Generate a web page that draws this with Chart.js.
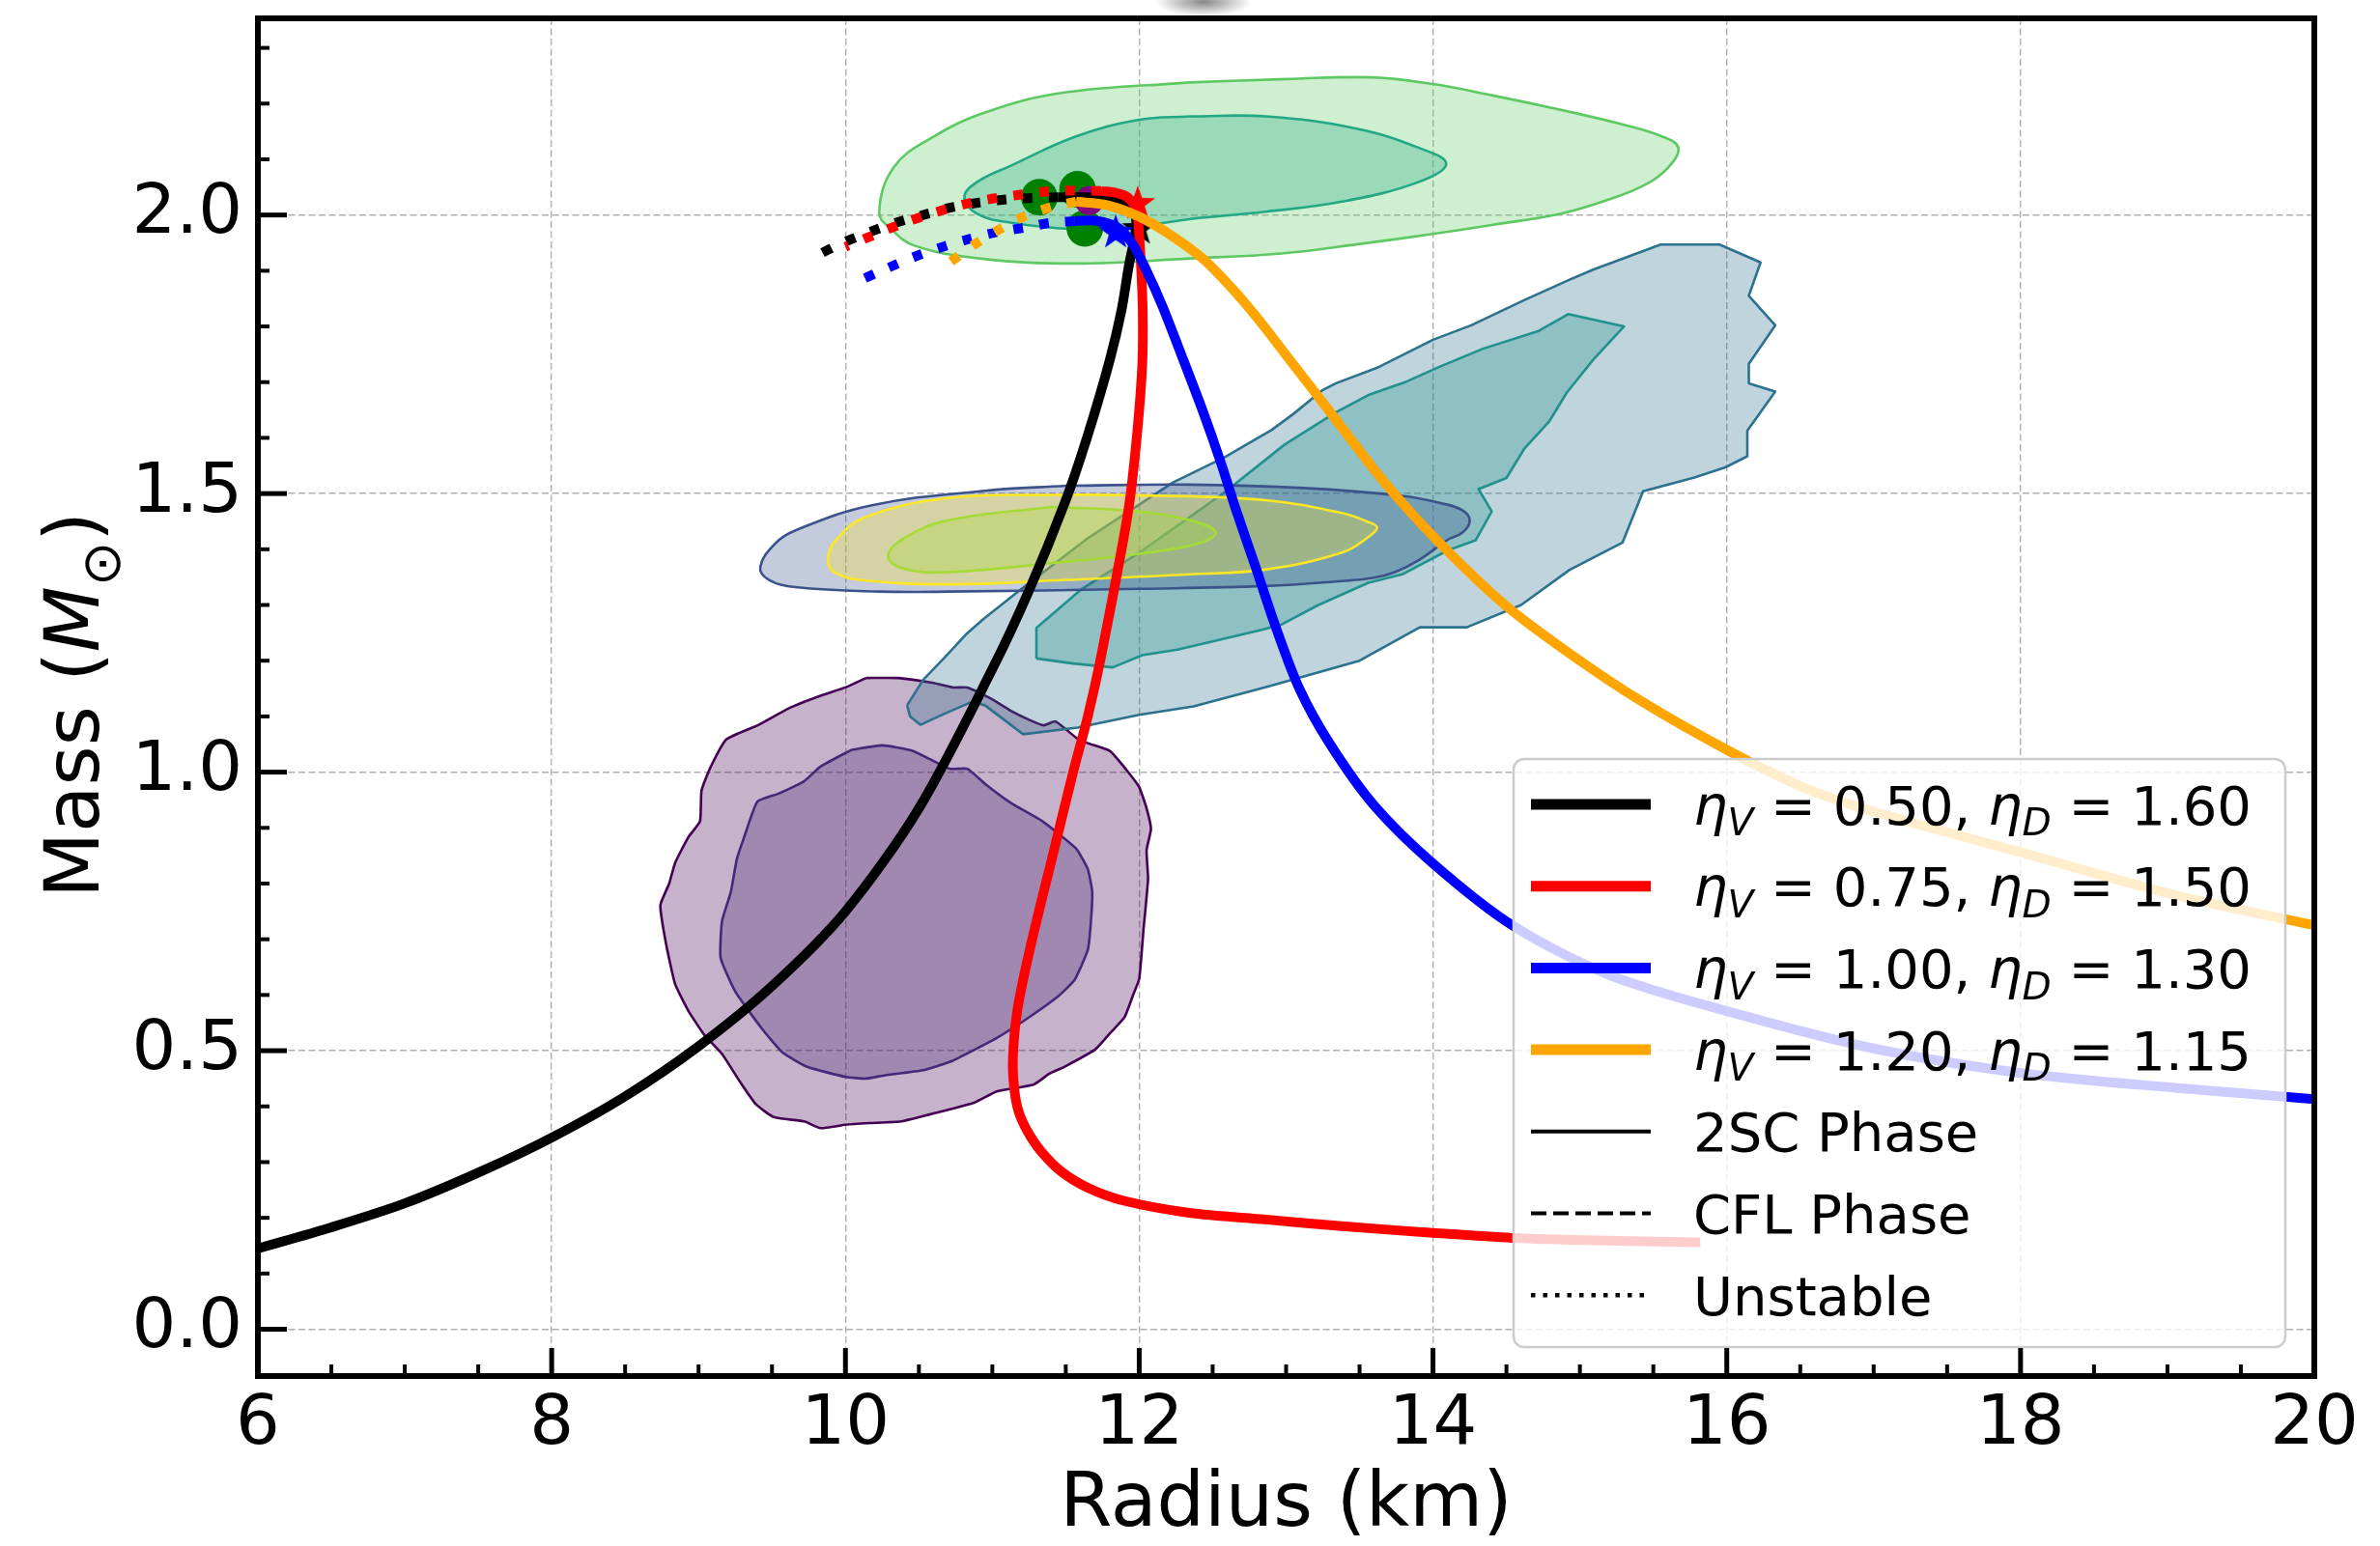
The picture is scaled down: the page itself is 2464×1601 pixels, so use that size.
<!DOCTYPE html>
<html>
<head>
<meta charset="utf-8">
<title>Mass-radius relation</title>
<script src="https://cdn.jsdelivr.net/npm/chart.js@4.4.0/dist/chart.umd.min.js"></script>
<style>
  html, body { margin: 0; padding: 0; background: #fff; }
  #wrap { width: 2464px; height: 1601px; }
</style>
</head>
<body>
<div id="wrap"><canvas id="mr" width="2464" height="1601"></canvas></div>
<script>
// ---- axes ----
const xTicks = [6, 8, 10, 12, 14, 16, 18, 20];
const yTicks = [0.0, 0.5, 1.0, 1.5, 2.0];

// ---- legend text ----
const eosColors = ['#000000', '#ff0000', '#0000ff', '#ffa500'];
const etaV = ['0.50', '0.75', '1.00', '1.20'];
const etaD = ['1.60', '1.50', '1.30', '1.15'];
const phaseLabels = ['2SC Phase', 'CFL Phase', 'Unstable'];

// ---- M-R curves: radius (km) / mass (Msun) ----
const bkR = [6.0, 6.5, 7.0, 7.5, 8.0, 8.5, 9.0, 9.5, 10.0, 10.5, 11.0, 11.25, 11.5, 11.65, 11.8, 11.88, 11.93, 11.965, 11.98, 11.96, 11.9, 11.78, 11.62, 11.45];
const bkM = [0.145, 0.183, 0.226, 0.281, 0.344, 0.418, 0.508, 0.616, 0.75, 0.935, 1.185, 1.326, 1.488, 1.605, 1.74, 1.83, 1.91, 1.955, 1.985, 2.01, 2.023, 2.03, 2.032, 2.032];
const bkUnR = [11.45, 11.3, 11.1, 10.9, 10.71, 10.53, 10.34, 10.16, 9.98, 9.78];
const bkUnM = [2.032, 2.031, 2.028, 2.022, 2.013, 2.0, 1.986, 1.969, 1.95, 1.924];

const rdR = [15.82, 15.19, 14.54, 14.0, 13.38, 12.86, 12.34, 11.89, 11.65, 11.47, 11.33, 11.24, 11.18, 11.15, 11.14, 11.17, 11.26, 11.42, 11.55, 11.65, 11.74, 11.89, 11.94, 11.99, 12.02, 12.025, 12.02, 12.0, 11.98, 11.92, 11.84, 11.74];
const rdM = [0.156, 0.159, 0.164, 0.173, 0.185, 0.197, 0.209, 0.231, 0.254, 0.283, 0.32, 0.355, 0.39, 0.43, 0.485, 0.572, 0.687, 0.86, 1.0, 1.1, 1.207, 1.414, 1.496, 1.62, 1.727, 1.8, 1.864, 1.963, 2.009, 2.032, 2.04, 2.043];
const rdUnR = [11.74, 11.54, 11.33, 11.15, 10.95, 10.76, 10.58, 10.4, 10.21, 10.0];
const rdUnM = [2.043, 2.044, 2.041, 2.035, 2.027, 2.016, 2.002, 1.986, 1.966, 1.943];

const blR = [20.0, 19.07, 18.03, 17.0, 15.96, 15.19, 14.54, 14.0, 13.6, 13.3, 13.09, 12.93, 12.79, 12.66, 12.55, 12.43, 12.3, 12.16, 12.05, 11.95, 11.85, 11.7, 11.56];
const blM = [0.413, 0.433, 0.459, 0.504, 0.574, 0.637, 0.725, 0.836, 0.94, 1.05, 1.15, 1.26, 1.37, 1.47, 1.56, 1.65, 1.74, 1.835, 1.9, 1.95, 1.978, 1.99, 1.989];
const blUnR = [11.56, 11.4, 11.21, 11.01, 10.83, 10.64, 10.46, 10.28, 10.1];
const blUnM = [1.989, 1.986, 1.977, 1.968, 1.956, 1.941, 1.924, 1.904, 1.883];

const orR = [20.0, 19.07, 18.03, 17.0, 16.5, 16.0, 15.42, 14.93, 14.49, 14.05, 13.67, 13.26, 13.01, 12.85, 12.66, 12.44, 12.22, 12.0, 11.78, 11.57];
const orM = [0.725, 0.778, 0.854, 0.929, 0.975, 1.04, 1.127, 1.213, 1.3, 1.41, 1.52, 1.66, 1.745, 1.8, 1.86, 1.92, 1.963, 1.997, 2.018, 2.024];
const orUnR = [11.57, 11.41, 11.22, 11.06, 10.89, 10.71];
const orUnM = [2.024, 2.015, 1.998, 1.976, 1.949, 1.915];

// ---- markers ----
const grMkR = [11.32, 11.58, 11.63];
const grMkM = [2.032, 2.046, 1.976];
const puMkR = [11.66];
const puMkM = [2.026];
const starR = [12.0, 11.99, 11.84];
const starM = [1.975, 2.02, 1.968];

// ---- observational contours (closed outlines) ----
const puOutR = [10.14, 10.36, 10.6, 10.73, 10.83, 10.99, 11.12, 11.25, 11.35, 11.43, 11.57, 11.65, 11.8, 11.91, 12.0, 12.05, 12.08, 12.05, 12.06, 12.03, 12.0, 11.96, 11.9, 11.8, 11.7, 11.49, 11.39, 11.28, 11.03, 10.88, 10.64, 10.38, 10.16, 10.0, 9.83, 9.72, 9.51, 9.39, 9.28, 9.16, 9.04, 8.93, 8.84, 8.78, 8.74, 8.8, 8.84, 8.93, 9.01, 9.02, 9.08, 9.19, 9.41, 9.61, 9.83, 10.0];
const puOutM = [1.169, 1.169, 1.16, 1.152, 1.152, 1.132, 1.111, 1.094, 1.084, 1.091, 1.062, 1.052, 1.038, 1.005, 0.973, 0.935, 0.898, 0.86, 0.808, 0.72, 0.629, 0.601, 0.56, 0.531, 0.502, 0.471, 0.459, 0.439, 0.427, 0.407, 0.39, 0.373, 0.37, 0.367, 0.361, 0.373, 0.381, 0.404, 0.445, 0.494, 0.528, 0.572, 0.62, 0.69, 0.761, 0.8, 0.837, 0.883, 0.912, 0.967, 1.008, 1.059, 1.085, 1.114, 1.137, 1.152];
const puInR = [10.04, 10.25, 10.46, 10.71, 10.83, 10.95, 11.13, 11.34, 11.57, 11.65, 11.68, 11.67, 11.65, 11.56, 11.45, 11.25, 11.03, 10.73, 10.53, 10.27, 10.14, 10.0, 9.74, 9.57, 9.43, 9.25, 9.15, 9.16, 9.22, 9.26, 9.31, 9.4, 9.54, 9.72, 9.83];
const puInM = [1.04, 1.048, 1.038, 1.006, 1.006, 0.979, 0.944, 0.912, 0.863, 0.826, 0.785, 0.728, 0.681, 0.627, 0.598, 0.56, 0.523, 0.482, 0.465, 0.456, 0.45, 0.453, 0.471, 0.497, 0.54, 0.606, 0.667, 0.733, 0.785, 0.843, 0.883, 0.947, 0.961, 0.984, 1.01];

const tlOutR = [10.42, 10.53, 10.68, 10.82, 10.94, 11.17, 11.64, 12.23, 12.58, 12.9, 13.05, 13.25, 13.34, 13.63, 14.0, 14.26, 14.62, 14.93, 15.09, 15.55, 15.95, 16.23, 16.15, 16.33, 16.15, 16.15, 16.33, 16.14, 16.14, 15.99, 15.78, 15.43, 15.29, 14.93, 14.6, 14.23, 13.91, 13.5, 12.87, 12.37, 12.0, 11.58, 11.21, 10.95, 10.86, 10.66, 10.51, 10.44];
const tlOutM = [1.12, 1.166, 1.207, 1.247, 1.275, 1.323, 1.418, 1.52, 1.565, 1.614, 1.643, 1.686, 1.698, 1.727, 1.776, 1.802, 1.847, 1.884, 1.902, 1.947, 1.947, 1.915, 1.855, 1.802, 1.733, 1.698, 1.683, 1.613, 1.567, 1.547, 1.529, 1.504, 1.412, 1.363, 1.3, 1.26, 1.26, 1.2, 1.153, 1.118, 1.103, 1.08, 1.068, 1.12, 1.126, 1.103, 1.085, 1.1];
const tlInR = [11.3, 11.3, 11.61, 11.99, 12.58, 12.99, 13.34, 13.57, 13.82, 14.04, 14.34, 14.72, 14.92, 15.3, 15.09, 14.91, 14.79, 14.62, 14.5, 14.31, 14.4, 14.29, 14.1, 13.79, 13.56, 13.22, 12.97, 12.84, 12.52, 12.26, 12.02, 11.82, 11.55];
const tlInM = [1.204, 1.259, 1.329, 1.392, 1.502, 1.588, 1.646, 1.678, 1.701, 1.727, 1.76, 1.792, 1.822, 1.8, 1.74, 1.681, 1.629, 1.58, 1.528, 1.508, 1.468, 1.416, 1.398, 1.355, 1.34, 1.3, 1.265, 1.256, 1.236, 1.22, 1.21, 1.188, 1.195];

const elR = [11.5, 12.34, 13.12, 13.79, 14.05, 14.2, 14.25, 14.2, 14.1, 13.9, 13.74, 13.6, 13.38, 12.86, 12.0, 10.7, 10.23, 9.66, 9.48, 9.42, 9.52, 9.66, 10.18, 10.95];
const elM = [1.514, 1.516, 1.51, 1.496, 1.483, 1.47, 1.451, 1.43, 1.417, 1.38, 1.359, 1.349, 1.343, 1.334, 1.329, 1.324, 1.324, 1.332, 1.345, 1.368, 1.41, 1.434, 1.479, 1.505];
const yeR = [11.47, 12.0, 12.86, 13.38, 13.55, 13.62, 13.55, 13.38, 12.87, 12.35, 11.5, 10.7, 10.07, 9.92, 9.88, 9.93, 10.13, 10.7];
const yeM = [1.498, 1.497, 1.488, 1.465, 1.45, 1.439, 1.42, 1.394, 1.364, 1.355, 1.345, 1.337, 1.346, 1.36, 1.381, 1.415, 1.457, 1.492];
const ygR = [11.4, 11.9, 12.3, 12.52, 12.4, 12.0, 11.4, 10.7, 10.4, 10.29, 10.4, 10.7];
const ygM = [1.476, 1.47, 1.455, 1.431, 1.41, 1.392, 1.375, 1.359, 1.365, 1.387, 1.42, 1.452];

const grOutR = [12.34, 13.0, 13.59, 14.0, 14.4, 14.9, 15.3, 15.55, 15.67, 15.6, 15.45, 15.2, 14.88, 14.4, 14.0, 13.5, 12.97, 12.35, 11.56, 10.91, 10.47, 10.31, 10.23, 10.33, 10.59, 10.95, 11.47];
const grOutM = [2.238, 2.244, 2.247, 2.235, 2.215, 2.187, 2.162, 2.142, 2.121, 2.085, 2.055, 2.028, 2.003, 1.982, 1.966, 1.948, 1.931, 1.922, 1.913, 1.922, 1.945, 1.975, 2.005, 2.086, 2.139, 2.184, 2.219];
const grInR = [12.34, 12.86, 13.48, 13.9, 14.09, 13.9, 13.38, 12.86, 12.35, 12.0, 11.56, 11.13, 10.89, 10.81, 10.9, 11.13, 11.57, 12.0];
const grInM = [2.177, 2.177, 2.155, 2.121, 2.092, 2.059, 2.024, 2.006, 1.993, 1.98, 1.975, 1.986, 2.003, 2.033, 2.06, 2.089, 2.141, 2.171];

const FONT = "'DejaVu Sans', sans-serif";
const DOTS = [10, 17];

function xy(R, M) {
    return R.map((r, i) => ({ x: r, y: M[i] }));
}

function contour(R, M, edge, fill, tension) {
    const pts = xy(R, M);
    pts.push(pts[0]);
    return {
        data: pts, borderColor: edge, backgroundColor: fill, borderWidth: 2.6,
        fill: 'shape', pointRadius: 0, tension: tension || 0, borderJoinStyle: 'round'
    };
}

function curve(R, M, color, dash) {
    return {
        data: xy(R, M), borderColor: color, borderWidth: 10, borderDash: dash || [],
        borderCapStyle: 'butt', borderJoinStyle: 'round', fill: false,
        pointRadius: 0, tension: 0.3
    };
}

function dots(R, M, style, radius, color) {
    return {
        data: xy(R, M), showLine: false, pointStyle: style, pointRadius: radius,
        pointBackgroundColor: color, pointBorderWidth: 0, pointBorderColor: color
    };
}

function starImage(color, r) {
    const c = document.createElement('canvas');
    const s = Math.ceil(2 * r + 4);
    c.width = s; c.height = s;
    const g = c.getContext('2d');
    g.translate(s / 2, s / 2);
    g.beginPath();
    for (let i = 0; i < 10; i++) {
        const rr = i % 2 ? r * 0.4 : r;
        const a = -Math.PI / 2 + i * Math.PI / 5;
        g.lineTo(rr * Math.cos(a), rr * Math.sin(a));
    }
    g.closePath();
    g.fillStyle = color;
    g.fill();
    return c;
}

// draw order: first item ends up at the bottom
const layers = [
    contour(puOutR, puOutM, '#440154', 'rgba(68,1,84,0.3)', 0.15),
    contour(puInR, puInM, '#46287a', 'rgba(72,40,120,0.3)', 0.15),
    contour(tlOutR, tlOutM, '#2c728e', 'rgba(44,114,142,0.3)'),
    contour(tlInR, tlInM, '#21918c', 'rgba(33,145,140,0.3)'),
    contour(elR, elM, '#3b528b', 'rgba(59,82,139,0.3)', 0.4),
    contour(yeR, yeM, '#fde725', 'rgba(253,231,37,0.3)', 0.4),
    contour(ygR, ygM, '#a5db36', 'rgba(165,219,54,0.3)', 0.4),
    contour(grOutR, grOutM, '#5ec962', 'rgba(94,201,98,0.3)', 0.4),
    contour(grInR, grInM, '#22a884', 'rgba(34,168,132,0.3)', 0.4),
    dots(grMkR, grMkM, 'circle', 19, '#008000'),
    dots(puMkR, puMkM, 'circle', 15, '#800080'),
    curve(bkUnR, bkUnM, eosColors[0], DOTS),
    curve(bkR, bkM, eosColors[0]),
    dots([starR[0]], [starM[0]], starImage(eosColors[0], 19), 19, eosColors[0]),
    curve(rdUnR, rdUnM, eosColors[1], DOTS),
    curve(rdR, rdM, eosColors[1]),
    dots([starR[1]], [starM[1]], starImage(eosColors[1], 19), 19, eosColors[1]),
    curve(blUnR, blUnM, eosColors[2], DOTS),
    curve(blR, blM, eosColors[2]),
    dots([starR[2]], [starM[2]], starImage(eosColors[2], 19), 19, eosColors[2]),
    curve(orUnR, orUnM, eosColors[3], DOTS),
    curve(orR, orM, eosColors[3])
];
layers.forEach((d, i) => { d.order = layers.length - i; });

// text runs with italic / subscript pieces
function drawRuns(ctx, runs, x, y, size) {
    let cx = x;
    runs.forEach(([txt, kind]) => {
        let fs = size, dy = 0, italic = false;
        if (kind === 'it') italic = true;
        if (kind === 'subit') { fs = size * 0.7; dy = size * 0.21; italic = true; }
        if (kind === 'sub') { fs = size * 0.7; dy = size * 0.28; }
        ctx.font = (italic ? 'italic ' : '') + fs + 'px ' + FONT;
        ctx.fillText(txt, cx, y + dy);
        cx += ctx.measureText(txt).width;
    });
    return cx - x;
}

function measureRuns(ctx, runs, size) {
    let w = 0;
    runs.forEach(([txt, kind]) => {
        const fs = (kind === 'sub' || kind === 'subit') ? size * 0.7 : size;
        ctx.font = (kind === 'it' || kind === 'subit' ? 'italic ' : '') + fs + 'px ' + FONT;
        w += ctx.measureText(txt).width;
    });
    return w;
}

const backdrop = {
    id: 'backdrop',
    beforeDraw(chart) {
        const ctx = chart.ctx;
        ctx.save();
        ctx.fillStyle = '#ffffff';
        ctx.fillRect(0, 0, chart.width, chart.height);
        // soft grey smudge above the top spine
        ctx.translate(1246, 2);
        ctx.scale(1, 0.3);
        const g = ctx.createRadialGradient(0, 0, 0, 0, 0, 50);
        g.addColorStop(0, 'rgba(115,115,115,0.85)');
        g.addColorStop(1, 'rgba(115,115,115,0)');
        ctx.fillStyle = g;
        ctx.beginPath();
        ctx.arc(0, 0, 50, 0, Math.PI * 2);
        ctx.fill();
        ctx.restore();
    }
};

const legendBox = {
    id: 'legendBox',
    afterDatasetsDraw(chart) {
        const ctx = chart.ctx;
        const bx = 1567, by = 786, bw = 799, bh = 609;
        ctx.save();
        ctx.beginPath();
        ctx.roundRect(bx, by, bw, bh, 11);
        ctx.fillStyle = 'rgba(255,255,255,0.8)';
        ctx.fill();
        ctx.lineWidth = 2.5;
        ctx.strokeStyle = '#cccccc';
        ctx.stroke();

        const size = 56;
        const rows = [];
        eosColors.forEach((c, i) => rows.push({
            color: c, width: 11, dash: [],
            runs: [['η', 'it'], ['V', 'subit'], [' = ' + etaV[i] + ', ', 'rm'], ['η', 'it'], ['D', 'subit'], [' = ' + etaD[i], 'rm']]
        }));
        rows.push({ color: '#000', width: 4, dash: [], runs: [[phaseLabels[0], 'rm']] });
        rows.push({ color: '#000', width: 4, dash: [16, 7], runs: [[phaseLabels[1], 'rm']] });
        rows.push({ color: '#000', width: 4.5, dash: [4.5, 8], runs: [[phaseLabels[2], 'rm']] });

        ctx.fillStyle = '#000';
        ctx.textBaseline = 'alphabetic';
        ctx.textAlign = 'left';
        rows.forEach((row, i) => {
            const ry = 833 + i * 84.7;
            ctx.beginPath();
            ctx.setLineDash(row.dash);
            ctx.lineCap = 'butt';
            ctx.lineWidth = row.width;
            ctx.strokeStyle = row.color;
            ctx.moveTo(1585, ry);
            ctx.lineTo(1709, ry);
            ctx.stroke();
            ctx.setLineDash([]);
            drawRuns(ctx, row.runs, 1753, ry + 20.5, size);
        });
        ctx.restore();
    }
};

const frame = {
    id: 'frame',
    afterDraw(chart) {
        const { ctx, chartArea: a, scales } = chart;
        const sx = scales.x, sy = scales.y;
        ctx.save();
        ctx.strokeStyle = '#000';
        ctx.lineCap = 'butt';
        const tick = (x1, y1, x2, y2) => { ctx.beginPath(); ctx.moveTo(x1, y1); ctx.lineTo(x2, y2); ctx.stroke(); };

        // inward ticks, bottom and left only
        ctx.lineWidth = 4;
        for (let v = 6.5; v < 20; v += 0.5) {
            if (xTicks.includes(v)) continue;
            const p = sx.getPixelForValue(v);
            tick(p, a.bottom, p, a.bottom - 12);
        }
        for (let k = 1; k <= 23; k++) {
            if (k % 5 === 0) continue;
            const p = sy.getPixelForValue(k / 10);
            tick(a.left, p, a.left + 12, p);
        }
        ctx.lineWidth = 5;
        xTicks.forEach(v => { const p = sx.getPixelForValue(v); tick(p, a.bottom, p, a.bottom - 29); });
        yTicks.forEach(v => { const p = sy.getPixelForValue(v); tick(a.left, p, a.left + 30, p); });

        ctx.lineWidth = 6;
        ctx.strokeRect(a.left, a.top, a.right - a.left, a.bottom - a.top);

        // y title: Mass (M_sun)
        const runs = [['Mass (', 'rm'], ['M', 'it'], ['\u2299', 'sub'], [')', 'rm']];
        const size = 79;
        const w = measureRuns(ctx, runs, size);
        ctx.translate(102, 730);
        ctx.rotate(-Math.PI / 2);
        ctx.fillStyle = '#000';
        ctx.textBaseline = 'alphabetic';
        ctx.textAlign = 'left';
        drawRuns(ctx, runs, -w / 2, 0, size);
        ctx.restore();
    }
};

Chart.defaults.font.family = FONT;
Chart.defaults.color = '#000';

new Chart(document.getElementById('mr'), {
    type: 'line',
    data: { datasets: layers },
    options: {
        responsive: false,
        animation: false,
        events: [],
        layout: { padding: { top: 18, right: 68, left: 0, bottom: 0 } },
        plugins: { legend: { display: false }, tooltip: { enabled: false } },
        scales: {
            x: {
                type: 'linear', min: 6, max: 20,
                afterFit: s => { s.height = 176; s.paddingLeft = 0; s.paddingRight = 0; },
                afterBuildTicks: s => { s.ticks = xTicks.map(v => ({ value: v })); },
                grid: { color: '#b0b0b0', lineWidth: 1.4, drawTicks: false },
                border: { display: false, dash: [7, 3.5] },
                ticks: { font: { size: 72 }, color: '#000', padding: 8, maxRotation: 0, callback: v => String(v) },
                title: { display: true, text: 'Radius (km)', font: { size: 78, lineHeight: 1 }, color: '#000', padding: { top: 0, bottom: 2 } }
            },
            y: {
                type: 'linear', min: -0.084, max: 2.353,
                afterFit: s => { s.width = 267; s.paddingTop = 0; s.paddingBottom = 0; },
                afterBuildTicks: s => { s.ticks = yTicks.map(v => ({ value: v })); },
                grid: { color: '#b0b0b0', lineWidth: 1.4, drawTicks: false },
                border: { display: false, dash: [7, 3.5] },
                ticks: { font: { size: 72 }, color: '#000', padding: 16, callback: v => v.toFixed(1) }
            }
        }
    },
    plugins: [backdrop, legendBox, frame]
});
</script>
</body>
</html>
